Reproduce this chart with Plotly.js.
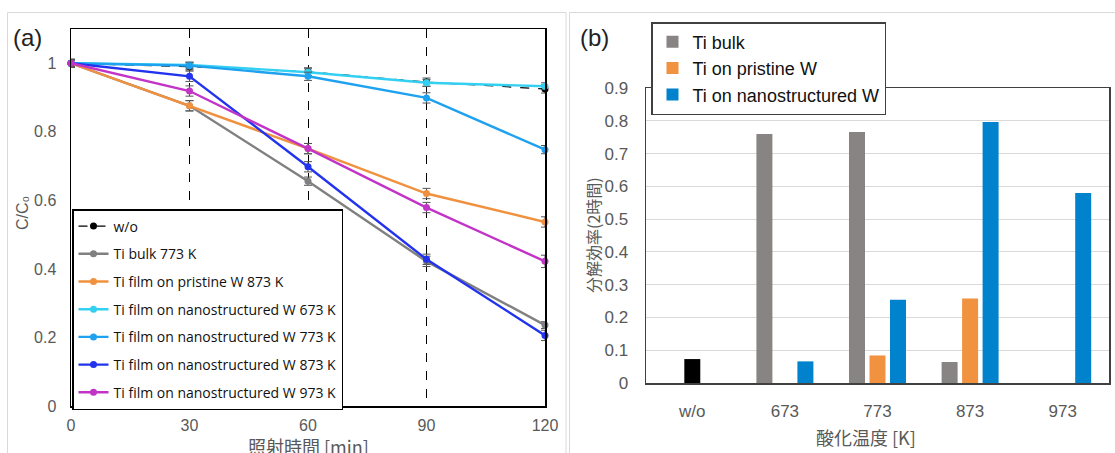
<!DOCTYPE html>
<html>
<head>
<meta charset="utf-8">
<script src="https://cdn.plot.ly/plotly-3.0.1.min.js"></script>
<style>html,body{margin:0;padding:0;background:#fff}#chart{width:1115px;height:453px}</style>
</head>
<body>
<div id="chart"></div>
<script>
// ---------- data: panel (a) ----------
const timeMin = [0, 30, 60, 90, 120];
const seriesNames = [
  "w/o",
  "Ti bulk 773 K",
  "Ti film on pristine W 873 K",
  "Ti film on nanostructured W 673 K",
  "Ti film on nanostructured W 773 K",
  "Ti film on nanostructured W 873 K",
  "Ti film on nanostructured W 973 K"
];
const woVals      = [1.000, 0.990, 0.975, 0.945, 0.925];
const bulk773     = [1.000, 0.876, 0.656, 0.422, 0.236];
const pristine873 = [1.000, 0.876, 0.751, 0.620, 0.537];
const nano673     = [1.000, 0.995, 0.974, 0.943, 0.933];
const nano773     = [1.000, 0.993, 0.962, 0.899, 0.748];
const nano873     = [1.000, 0.962, 0.698, 0.428, 0.206];
const nano973     = [1.000, 0.919, 0.751, 0.579, 0.422];
const woErr       = [0.010, 0.010, 0.012, 0.012, 0.012];
const bulkErr     = [0.012, 0.015, 0.012, 0.015, 0.010];
const pristineErr = [0.012, 0.015, 0.015, 0.015, 0.015];
const nano673Err  = [0.010, 0.008, 0.010, 0.010, 0.010];
const nano773Err  = [0.010, 0.010, 0.012, 0.015, 0.012];
const nano873Err  = [0.010, 0.015, 0.015, 0.015, 0.015];
const nano973Err  = [0.010, 0.015, 0.015, 0.015, 0.018];
const xTickVals = [0, 30, 60, 90, 120];
const yTickVals = [0, 0.2, 0.4, 0.6, 0.8, 1];
const yTickText = ["0", "0.2", "0.4", "0.6", "0.8", "1"];

// ---------- data: panel (b) ----------
const tempCats = ["w/o", "673", "773", "873", "973"];
const barNames = ["Ti bulk", "Ti on pristine W", "Ti on nanostructured W"];
const woBar       = [0.073, null, null, null, null];
const bulkBar     = [null, 0.760, 0.766, 0.064, null];
const pristineBar = [null, null, 0.084, 0.258, null];
const nanoBar     = [null, 0.066, 0.254, 0.796, 0.580];
const yTickVals2 = [0, 0.1, 0.2, 0.3, 0.4, 0.5, 0.6, 0.7, 0.8, 0.9];
const yTickText2 = ["0", "0.1", "0.2", "0.3", "0.4", "0.5", "0.6", "0.7", "0.8", "0.9"];

// ---------- layout helpers ----------
const W = 1115, H = 453;
const px = v => v / W;
const py = v => 1 - v / H;
const tickColor = "#595959";
const jp = "'Noto Sans CJK JP', 'Noto Sans', sans-serif";
const sans = "'Liberation Sans', Arial, sans-serif";

const lineColors = ["#000000", "#808080", "#f0913f", "#33d0f2", "#1ea2f0", "#2233ee", "#c234c8"];
const lineVals = [woVals, bulk773, pristine873, nano673, nano773, nano873, nano973];
const lineErrs = [woErr, bulkErr, pristineErr, nano673Err, nano773Err, nano873Err, nano973Err];

const traces = [];
lineVals.forEach((vals, i) => {
  traces.push({
    type: "scatter", mode: "lines+markers",
    x: timeMin, y: vals, name: seriesNames[i],
    xaxis: "x", yaxis: "y", legend: "legend", legendgroup: "g" + i,
    cliponaxis: false,
    line: { color: lineColors[i], width: i === 0 ? 1.2 : 2.4, dash: i === 0 ? "dash" : "solid" },
    marker: { color: lineColors[i], size: 7 },
    error_y: { type: "data", array: lineErrs[i], color: "#555555", thickness: 1, width: 4 }
  });
});

const barColors = ["#878483", "#f0923f", "#0082cc"];
traces.push({ type: "bar", x: tempCats, y: bulkBar, name: barNames[0], xaxis: "x2", yaxis: "y2",
  legend: "legend2", offsetgroup: "1", marker: { color: barColors[0] } });
traces.push({ type: "bar", x: tempCats, y: pristineBar, name: barNames[1], xaxis: "x2", yaxis: "y2",
  legend: "legend2", offsetgroup: "2", marker: { color: barColors[1] } });
traces.push({ type: "bar", x: tempCats, y: nanoBar, name: barNames[2], xaxis: "x2", yaxis: "y2",
  legend: "legend2", offsetgroup: "3", marker: { color: barColors[2] } });
traces.push({ type: "bar", x: tempCats, y: woBar, name: "w/o", xaxis: "x2", yaxis: "y2",
  legend: "legend2", offsetgroup: "2", showlegend: false, marker: { color: "#000000" } });

const ann = (text, x, y, size, color, family, angle) => ({
  text: text, xref: "paper", yref: "paper", x: px(x), y: py(y),
  xanchor: "center", yanchor: "middle", showarrow: false, textangle: angle || 0,
  font: { family: family, size: size, color: color }
});

const layout = {
  width: W, height: H,
  margin: { l: 0, r: 0, t: 0, b: 0 },
  paper_bgcolor: "#ffffff", plot_bgcolor: "#ffffff",
  showlegend: true,
  barmode: "group", bargap: 0.336, bargroupgap: 0.22,
  xaxis: {
    anchor: "y",
    domain: [px(71), px(545)], range: [0, 120],
    tickvals: xTickVals, ticks: "", ticklabelstandoff: 4,
    showgrid: true, gridcolor: "#000000", griddash: "dash", gridwidth: 1,
    zeroline: false, showline: true, mirror: true, linecolor: "#000000", linewidth: 1.5,
    tickfont: { family: sans, size: 16, color: tickColor }
  },
  yaxis: {
    anchor: "x",
    domain: [1 - 406 / H, 1 - 29 / H], range: [0, 1.1],
    tickvals: yTickVals, ticktext: yTickText, ticks: "", ticklabelstandoff: 10,
    showgrid: false, zeroline: false, showline: true, mirror: true, linecolor: "#000000", linewidth: 1.5,
    tickfont: { family: sans, size: 16, color: tickColor }
  },
  xaxis2: {
    anchor: "y2",
    domain: [px(646), px(1109)], type: "category",
    ticks: "", ticklabelstandoff: 12, showgrid: false, zeroline: false,
    showline: true, mirror: true, linecolor: "#404040", linewidth: 1.5,
    tickfont: { family: sans, size: 17, color: tickColor }
  },
  yaxis2: {
    anchor: "x2",
    domain: [1 - 383 / H, 1 - 88 / H], range: [0, 0.9],
    tickvals: yTickVals2, ticktext: yTickText2, ticks: "", ticklabelstandoff: 13,
    showgrid: true, gridcolor: "#d9d9d9", gridwidth: 1, zeroline: false,
    showline: true, mirror: true, linecolor: "#404040", linewidth: 1.5,
    tickfont: { family: sans, size: 17, color: tickColor }
  },
  legend: {
    x: px(72), y: py(209), xanchor: "left", yanchor: "top",
    bgcolor: "#ffffff", bordercolor: "#000000", borderwidth: 1.5,
    font: { family: "'Open Sans', 'Noto Sans', sans-serif", size: 14, color: "#111111" },
    traceorder: "grouped", tracegroupgap: 6.5, itemwidth: 30
  },
  legend2: {
    x: px(651), y: py(22), xanchor: "left", yanchor: "top",
    bgcolor: "#ffffff", bordercolor: "#404040", borderwidth: 1.5,
    font: { family: sans, size: 18, color: "#111111" },
    itemwidth: 30, tracegroupgap: 6
  },
  shapes: [
    { type: "rect", xref: "paper", yref: "paper", x0: px(7.5), x1: px(566), y0: py(460), y1: py(12.5),
      line: { color: "#d9d9d9", width: 1 } },
    { type: "rect", xref: "paper", yref: "paper", x0: px(569.5), x1: px(1120), y0: py(460), y1: py(12.5),
      line: { color: "#d9d9d9", width: 1 } }
  ],
  annotations: [
    ann("(a)", 27, 38, 24, "#222222", sans),
    ann("(b)", 594, 38, 24, "#222222", sans),
    ann("C/C₀", 23, 213, 16, tickColor, sans, -90),
    ann("照射時間 [min]", 308, 446, 18, tickColor, jp),
    ann("分解効率(2時間)", 593, 235, 16, tickColor, jp, -90),
    ann("酸化温度 [K]", 866, 437, 18, tickColor, jp)
  ]
};

Plotly.newPlot("chart", traces, layout, { displayModeBar: false, staticPlot: true });
</script>
</body>
</html>
